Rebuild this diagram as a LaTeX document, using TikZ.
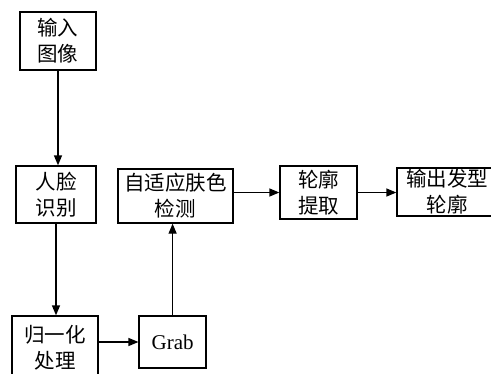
\documentclass[tikz,border=0pt]{standalone}
\usepackage{fontspec}
\newfontfamily\cjk{Noto Sans CJK SC}
\newfontfamily\lat{Liberation Serif}
\usetikzlibrary{arrows.meta}
\begin{document}
\begin{tikzpicture}[x=1pt,y=-1pt,
  box/.style={draw,line width=1.3pt,align=center,inner sep=0pt,font=\cjk\fontsize{20.5}{26}\selectfont},
  arr/.style={-{Triangle[length=10pt,width=8pt]},line width=1.3pt}]
\useasboundingbox (0,0) rectangle (491,373);
\clip (0,0) rectangle (491,373);
\node[box,minimum width=76,minimum height=58] (in) at (58,41) {输入\\图像};
\node[box,minimum width=80,minimum height=57] (face) at (56,194.5) {人脸\\识别};
\node[box,minimum width=115,minimum height=54] (adapt) at (175.5,196) {自适应肤色\\检测};
\node[box,minimum width=67,minimum height=52,font=\lat\fontsize{21}{26}\selectfont] (grab) at (172.6,342) {Grab};
\node[box,minimum width=86,minimum height=64] (norm) at (55,348) {归一化\\处理};
\node[box,minimum width=77,minimum height=53] (contour) at (318.5,192.5) {轮廓\\提取};
\node[box,minimum width=100,minimum height=48] (out) at (447,192) {输出发型\\轮廓};
\draw[arr] (in.south) -- (in.south |- face.north);
\draw[arr] (face.south) -- (face.south |- norm.north);
\draw[arr] (norm.east |- grab.west) -- (grab.west);
\draw[arr] (grab.north) -- (grab.north |- adapt.south);
\draw[arr] (adapt.east |- contour.west) -- (contour.west);
\draw[arr] (contour.east) -- (contour.east -| out.west);
\end{tikzpicture}
\end{document}
